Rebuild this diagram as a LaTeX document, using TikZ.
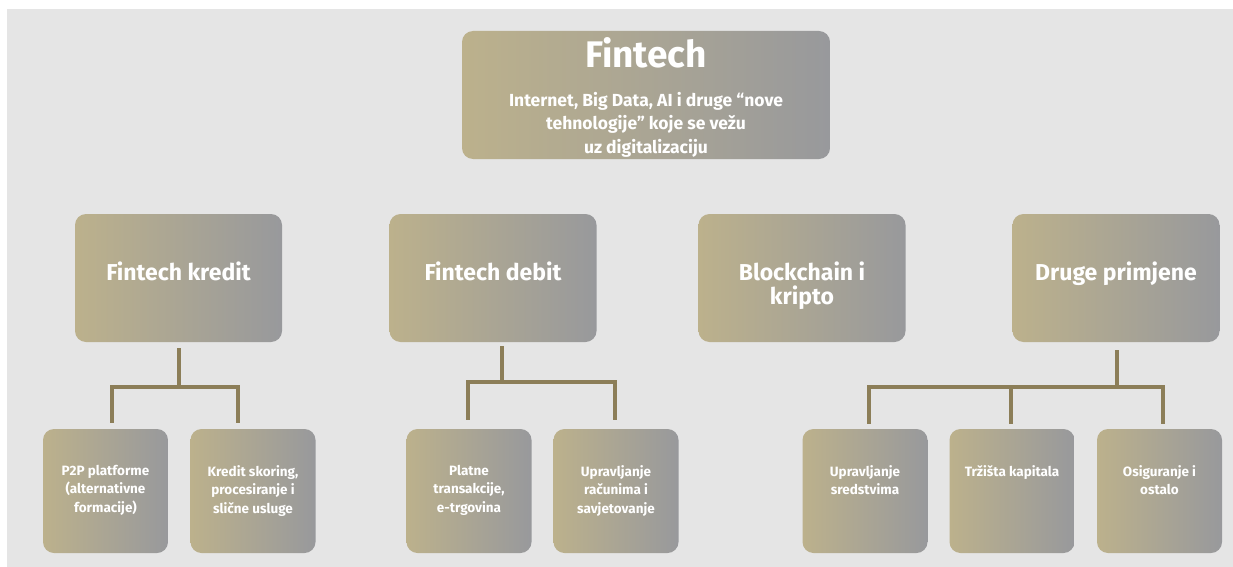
\documentclass[tikz,border=0pt]{standalone}
\usepackage{fontspec}
\setmainfont{Fira Sans}
\usetikzlibrary{calc}
\definecolor{bgc}{RGB}{229,229,229}
\definecolor{boxL}{RGB}{188,177,140}
\definecolor{boxR}{RGB}{152,153,156}
\definecolor{linec}{RGB}{140,126,88}
\tikzset{
  gbox/.style n args={2}{rounded corners=11pt, left color=boxL, right color=boxR, draw=none, minimum width=#1, minimum height=#2, inner sep=0pt},
  topbox/.style={gbox={368pt}{128pt}},
  midbox/.style={gbox={207pt}{128pt}},
  lowbox/.style={gbox={125pt}{124pt}},
  txt/.style={text=white, font=\bfseries, align=center, inner sep=0pt, anchor=north},
  midtxt/.style={txt, font=\fontsize{23}{24}\selectfont\bfseries},
  lowtxt/.style={txt, font=\fontsize{13.5}{18.5}\selectfont\bfseries},
  conn/.style={draw=linec, line width=4pt}
}
\begin{document}
\begin{tikzpicture}[x=1pt,y=-1pt]
\useasboundingbox (0,0) rectangle (1233,567);
\fill[bgc] (7,9) rectangle (1233,567);

% top
\node[topbox] (fin) at (646,95) {};
\node[txt, font=\fontsize{37}{40}\selectfont\bfseries] (finT) at (646,37) {Fintech};
\node[txt, font=\fontsize{17.5}{23.5}\selectfont\bfseries] (finS) at (646,92) {Internet, Big Data, AI i druge “nove\\tehnologije” koje se vežu\\uz digitalizaciju};

% level 2
\node[midbox] (kred) at (178.5,278) {};
\node[midbox] (deb) at (493,278) {};
\node[midbox] (blk) at (802,278) {};
\node[midbox] (dru) at (1116,278) {};
\node[midtxt] (kredT) at (178.5,262) {Fintech kredit};
\node[midtxt] (debT) at (493,262) {Fintech debit};
\node[midtxt] (blkT) at (802,262) {Blockchain i\\kripto};
\node[midtxt] (druT) at (1116,262) {Druge primjene};

% level 3
\node[lowbox] (p2p) at (105.5,491) {};
\node[lowbox] (sko) at (253,491) {};
\node[lowbox] (pla) at (469,491) {};
\node[lowbox] (rac) at (616,491) {};
\node[lowbox] (sre) at (865,491) {};
\node[lowbox] (trz) at (1012,491) {};
\node[lowbox] (osi) at (1159.5,491) {};
\node[lowtxt] (p2pT) at (105.5,465) {P2P platforme\\(alternativne\\formacije)};
\node[lowtxt] (skoT) at (253,465) {Kredit skoring,\\procesiranje i\\slične usluge};
\node[lowtxt] (plaT) at (469,465) {Platne\\transakcije,\\e-trgovina};
\node[lowtxt] (racT) at (616,465) {Upravljanje\\računima i\\savjetovanje};
\node[lowtxt] (sreT) at (865,465) {Upravljanje\\sredstvima};
\node[lowtxt] (trzT) at (1012,465) {Tržišta kapitala};
\node[lowtxt] (osiT) at (1159.5,465) {Osiguranje i\\ostalo};

% connectors
\coordinate (kJ) at ($(kred.south)+(0,45)$);
\draw[conn] ($(kred.south)+(0,6)$) -- (kJ);
\draw[conn] ($(p2p.north)+(6.5,-6)$) |- (kJ) -| ($(sko.north)+(-15,-6)$);

\coordinate (dJ) at ($(deb.south)+(9,40)$);
\draw[conn] ($(deb.south)+(9,4)$) -- (dJ);
\draw[conn] ($(pla.north)+(-1,-9)$) |- (dJ) -| ($(rac.north)+(-1,-9)$);

\coordinate (gJ) at ($(dru.south)+(1,45)$);
\draw[conn] ($(dru.south)+(1,8)$) -- (gJ);
\draw[conn] ($(sre.north)+(4,-5)$) |- (gJ) -| ($(osi.north)+(3.5,-5)$);
\draw[conn] ($(trz.north)+(-1,-5)$) -- ($(trz.north)+(-1,-42)$);
\end{tikzpicture}
\end{document}
